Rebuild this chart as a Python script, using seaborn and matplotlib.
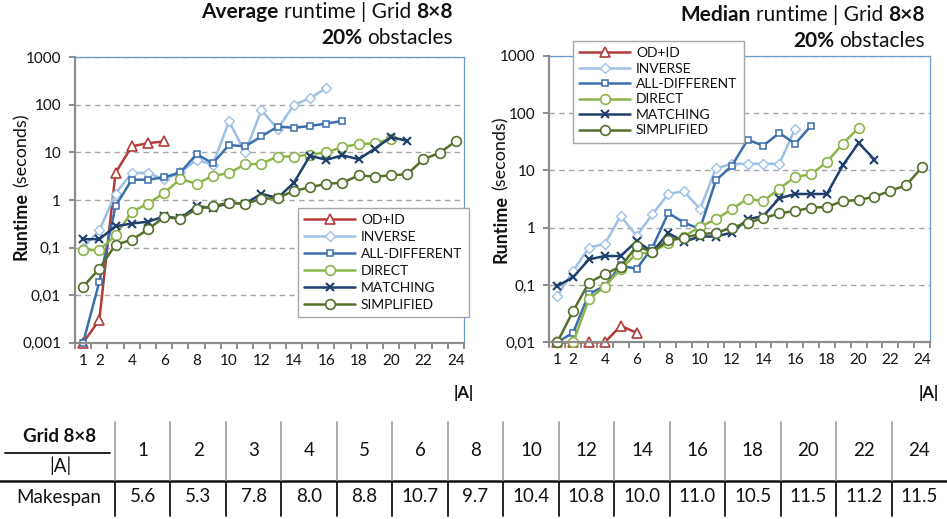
import numpy as np
import pandas as pd
import matplotlib
matplotlib.use('Agg')
import matplotlib.pyplot as plt
import seaborn as sns
from matplotlib.lines import Line2D
from matplotlib.ticker import NullLocator

sns.set_theme(style='white')
plt.rcParams['font.family'] = ['Lato', 'DejaVu Sans']

# ---------------- data ----------------
series_names = ['OD+ID', 'INVERSE', 'ALL-DIFFERENT', 'DIRECT', 'MATCHING', 'SIMPLIFIED']

# Average runtime (seconds)
avg_x_odid = [1, 2, 3, 4, 5, 6]
avg_odid = [0.001, 0.003, 3.7, 13.4, 15.7, 17]
avg_x_inverse = list(range(1, 17))
avg_inverse = [0.1, 0.23, 1.36, 3.7, 3.7, 2.7, 3.8, 7.0, 5.5, 45, 10, 78, 31, 100, 138, 224]
avg_x_alldiff = list(range(1, 18))
avg_alldiff = [0.001, 0.019, 0.74, 2.67, 2.67, 3.0, 3.8, 9.2, 5.9, 14.3, 13.4, 21.7, 35, 33, 36, 40.5, 46]
avg_x_direct = list(range(1, 21))
avg_direct = [0.089, 0.089, 0.18, 0.56, 0.84, 1.4, 2.76, 2.2, 3.2, 3.7, 5.6, 5.8, 8.2, 8.2, 9.0, 10, 13, 15, 15.5, 19.5]
avg_x_matching = list(range(1, 22))
avg_matching = [0.15, 0.15, 0.28, 0.32, 0.35, 0.45, 0.41, 0.74, 0.68, 0.87, 0.84, 1.35, 1.1, 2.3, 8.5, 7.0, 8.7, 7.2, 12, 21, 17.5]
avg_x_simplified = list(range(1, 25))
avg_simplified = [0.015, 0.036, 0.115, 0.145, 0.24, 0.44, 0.40, 0.65, 0.74, 0.88, 0.84, 1.05, 1.1, 1.55, 1.85,
                  2.2, 2.3, 3.3, 3.1, 3.3, 3.5, 7.2, 9.8, 17.3]

# Median runtime (seconds)
med_x_odid = [1, 2, 3, 4, 5, 6]
med_odid = [0.01, 0.01, 0.01, 0.01, 0.0193, 0.0147]
med_x_inverse = list(range(1, 17))
med_inverse = [0.064, 0.175, 0.45, 0.52, 1.6, 0.72, 1.7, 3.9, 4.3, 2.1, 10.8, 13, 13, 13, 13, 53]
med_x_alldiff = list(range(1, 18))
med_alldiff = [0.01, 0.0147, 0.07, 0.096, 0.22, 0.19, 0.45, 1.8, 1.22, 0.95, 6.7, 11.9, 34, 27, 45, 29, 60]
med_x_direct = list(range(1, 21))
med_direct = [0.01, 0.01, 0.057, 0.094, 0.19, 0.35, 0.37, 0.55, 0.7, 1.04, 1.4, 2.1, 3.2, 2.9, 4.8, 7.7, 8.5, 14, 29, 55]
med_x_matching = list(range(1, 22))
med_matching = [0.096, 0.136, 0.28, 0.32, 0.32, 0.58, 0.38, 0.8, 0.57, 0.7, 0.7, 0.82, 1.4, 1.6, 3.25, 3.87,
                3.87, 3.87, 12.2, 30, 15.4]
med_x_simplified = list(range(1, 25))
med_simplified = [0.01, 0.035, 0.11, 0.155, 0.21, 0.47, 0.38, 0.61, 0.67, 0.77, 0.81, 1.0, 1.22, 1.46, 1.78,
                  1.95, 2.23, 2.3, 2.9, 3.04, 3.47, 4.4, 5.5, 11.4]

x_tick_values = [1, 2, 4, 6, 8, 10, 12, 14, 16, 18, 20, 22, 24]
avg_ytick_values = [0.001, 0.01, 0.1, 1, 10, 100, 1000]
avg_ytick_labels = ['0,001', '0,01', '0,1', '1', '10', '100', '1000']
med_ytick_values = [0.01, 0.1, 1, 10, 100, 1000]
med_ytick_labels = ['0,01', '0,1', '1', '10', '100', '1000']

table_A = [1, 2, 3, 4, 5, 6, 8, 10, 12, 14, 16, 18, 20, 22, 24]
table_makespan = [5.6, 5.3, 7.8, 8.0, 8.8, 10.7, 9.7, 10.4, 10.8, 10.0, 11.0, 10.5, 11.5, 11.2, 11.5]

avg_data = {
    'OD+ID': (avg_x_odid, avg_odid),
    'INVERSE': (avg_x_inverse, avg_inverse),
    'ALL-DIFFERENT': (avg_x_alldiff, avg_alldiff),
    'DIRECT': (avg_x_direct, avg_direct),
    'MATCHING': (avg_x_matching, avg_matching),
    'SIMPLIFIED': (avg_x_simplified, avg_simplified),
}
med_data = {
    'OD+ID': (med_x_odid, med_odid),
    'INVERSE': (med_x_inverse, med_inverse),
    'ALL-DIFFERENT': (med_x_alldiff, med_alldiff),
    'DIRECT': (med_x_direct, med_direct),
    'MATCHING': (med_x_matching, med_matching),
    'SIMPLIFIED': (med_x_simplified, med_simplified),
}

styles = {
    'OD+ID': dict(color='#B13C3A', marker='^', ms=6.5, mew=1.2),
    'INVERSE': dict(color='#9DC0E5', marker='D', ms=4.6, mew=1.0),
    'ALL-DIFFERENT': dict(color='#3A6EAD', marker='s', ms=4.8, mew=1.1),
    'DIRECT': dict(color='#8CB44A', marker='o', ms=7.0, mew=1.2),
    'MATCHING': dict(color='#1F3F6C', marker='x', ms=6.0, mew=1.5),
    'SIMPLIFIED': dict(color='#556F2C', marker='o', ms=7.0, mew=1.2),
}

# ---------------- figure ----------------
W, H = 947, 519
fig = plt.figure(figsize=(W / 100, H / 100), dpi=100)
TXT = '#111111'


def fx(px):
    return px / W


def fy(py):
    return 1 - py / H


ax1 = fig.add_axes([fx(75), fy(342.7), fx(464) - fx(75), fy(57.3) - fy(342.7)])
ax2 = fig.add_axes([fx(549.3), fy(342.3), fx(930) - fx(549.3), fy(55.7) - fy(342.3)])

GREY = '#8C8C8C'
BLUE_FRAME = '#6B9AD3'


def draw_panel(ax, data, ylim, yvals, ylabels):
    for name in series_names:
        xs, ys = data[name]
        df = pd.DataFrame({'A': xs, 'Runtime': ys})
        st = styles[name]
        sns.lineplot(data=df, x='A', y='Runtime', ax=ax, color=st['color'], marker=st['marker'],
                     markersize=st['ms'], markerfacecolor='white', markeredgecolor=st['color'],
                     markeredgewidth=st['mew'], linewidth=1.8, label=name, estimator=None,
                     sort=False, clip_on=False)
    ax.set_yscale('log')
    ax.set_ylim(*ylim)
    ax.set_xlim(0.5, 24.5)
    ax.set_yticks(yvals)
    ax.set_yticklabels(ylabels)
    ax.yaxis.set_minor_locator(NullLocator())
    ax.set_xticks(x_tick_values)
    ax.set_xticklabels([str(v) for v in x_tick_values])
    ax.set_xticks(np.arange(0.5, 25, 1.0), minor=True)
    ax.tick_params(axis='x', which='major', length=0, pad=8, labelsize=11, labelcolor=TXT)
    ax.tick_params(axis='x', which='minor', length=4, width=1.4, color=GREY, direction='out', bottom=True)
    ax.tick_params(axis='y', which='major', length=4, width=1.4, color=GREY, direction='out', left=True,
                   pad=6, labelsize=11, labelcolor=TXT)
    ax.set_xlabel('')
    ax.set_ylabel('')
    ax.grid(axis='y', which='major', color='#A6A6A6', lw=1.0, ls=(0, (4, 3)))
    ax.grid(axis='x', visible=False)
    for s in ['left', 'bottom']:
        ax.spines[s].set_color(GREY)
        ax.spines[s].set_linewidth(1.6)
    for s in ['top', 'right']:
        ax.spines[s].set_color(BLUE_FRAME)
        ax.spines[s].set_linewidth(0.9)
        ax.spines[s].set_visible(True)


draw_panel(ax1, avg_data, (0.001, 1000), avg_ytick_values, avg_ytick_labels)
draw_panel(ax2, med_data, (0.01, 1000), med_ytick_values, med_ytick_labels)

leg_kw = dict(frameon=True, fancybox=False, framealpha=1, edgecolor='#A6A6A6', fontsize=10,
              handlelength=3.7, numpoints=1, borderaxespad=0, handletextpad=0.4, borderpad=0.45)
l1 = ax1.legend(loc='upper left', bbox_to_anchor=(0.5725, 0.472), labelspacing=0.36, **leg_kw)
l2 = ax2.legend(loc='upper left', bbox_to_anchor=(0.0615, 1.052), labelspacing=0.25, **leg_kw)
for lg in (l1, l2):
    lg.get_frame().set_linewidth(1.0)
    lg.set_zorder(10)
    for t in lg.get_texts():
        t.set_color(TXT)

fig.canvas.draw()
renderer = fig.canvas.get_renderer()


def measure(s, size, weight, rotation=0):
    t = fig.text(0, 0, s, fontsize=size, fontweight=weight, rotation=rotation)
    bb = t.get_window_extent(renderer)
    t.remove()
    return bb


def rich(x_px, y_px, parts, size, align='right', rotation=0):
    """parts: list of (text, weight); spaces between parts are inserted explicitly."""
    sp = measure('a a', size, 'normal').width - measure('aa', size, 'normal').width
    widths = [measure(s, size, w).width for s, w in parts]
    total = sum(widths) + sp * (len(parts) - 1)
    if align == 'right':
        start = -total
    elif align == 'center':
        start = -total / 2
    else:
        start = 0
    pos = start
    for (s, w), wd in zip(parts, widths):
        if rotation == 90:
            fig.text(fx(x_px), fy(y_px) + pos / H, s, fontsize=size, fontweight=w, rotation=90,
                     rotation_mode='anchor', ha='left', va='baseline', color=TXT)
        else:
            fig.text(fx(x_px) + pos / W, fy(y_px), s, fontsize=size, fontweight=w,
                     ha='left', va='baseline', color=TXT)
        pos += wd + sp


# titles
rich(453, 18.5, [('Average', 'bold'), ('runtime | Grid', 'normal'), ('8×8', 'bold')], 15)
rich(453, 44, [('20%', 'bold'), ('obstacles', 'normal')], 15)
rich(925, 20.7, [('Median', 'bold'), ('runtime | Grid', 'normal'), ('8×8', 'bold')], 15)
rich(925, 46.7, [('20%', 'bold'), ('obstacles', 'normal')], 15)

# y labels (rotated)
rich(26.5, 186.5, [('Runtime', 'bold'), ('(seconds)', 'normal')], 13, align='center', rotation=90)
rich(506, 190, [('Runtime', 'bold'), ('(seconds)', 'normal')], 13, align='center', rotation=90)

# |A| labels
fig.text(fx(464), fy(393), '|A|', fontsize=12, fontweight='bold', ha='center', va='center', color=TXT)
fig.text(fx(929), fy(393), '|A|', fontsize=12, fontweight='bold', ha='center', va='center', color=TXT)

# ---------------- table ----------------
col_left = 115
col_w = (W - col_left) / len(table_A)
tsize = 13.5
fig.text(fx(60), fy(437), 'Grid 8×8', fontsize=tsize, fontweight='bold', ha='center', va='center', color=TXT)
fig.text(fx(60), fy(466), '|A|', fontsize=tsize, ha='center', va='center', color=TXT)
fig.text(fx(58.5), fy(497), 'Makespan', fontsize=tsize, ha='center', va='center', color=TXT)
fig.add_artist(Line2D([fx(5), fx(110)], [fy(453), fy(453)], transform=fig.transFigure, color=TXT, lw=1.3))
fig.add_artist(Line2D([0, 1], [fy(481), fy(481)], transform=fig.transFigure, color=TXT, lw=1.8))
for i, (a, m) in enumerate(zip(table_A, table_makespan)):
    cx = col_left + col_w * (i + 0.5)
    fig.text(fx(cx), fy(451), str(a), fontsize=tsize, ha='center', va='center', color=TXT)
    fig.text(fx(cx), fy(497), f'{m:.1f}', fontsize=tsize, ha='center', va='center', color=TXT)
    lx = col_left + col_w * i
    fig.add_artist(Line2D([fx(lx), fx(lx)], [fy(422), fy(480)], transform=fig.transFigure,
                          color='#A6A6A6', lw=1.3))
    fig.add_artist(Line2D([fx(lx), fx(lx)], [fy(482), fy(516)], transform=fig.transFigure,
                          color=TXT, lw=1.3))

fig.savefig('out.png', dpi=100)
